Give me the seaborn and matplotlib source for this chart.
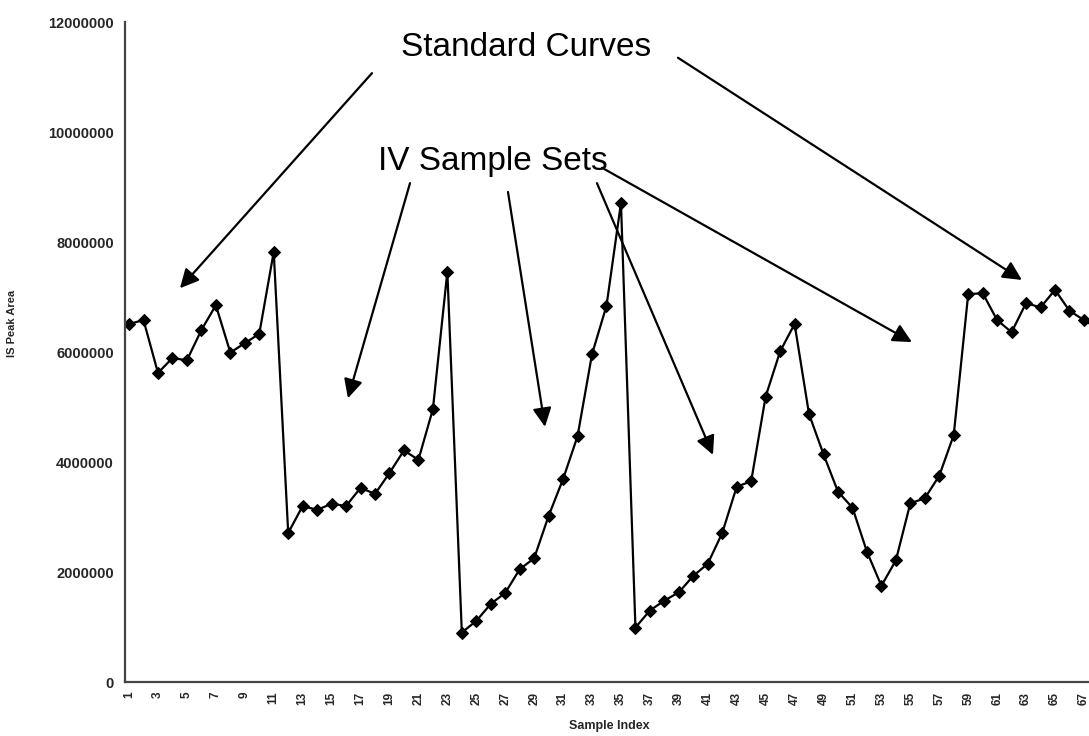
import matplotlib
matplotlib.use("Agg")
import matplotlib.pyplot as plt
import seaborn as sns
import pandas as pd

# ---- data ----
sample_index = list(range(1, 69))
is_peak_area = [
    6510000, 6580000, 5620000, 5890000, 5850000, 6400000, 6850000, 5990000, 6160000, 6330000,
    7820000, 2710000, 3200000, 3130000, 3240000, 3200000, 3530000, 3420000, 3800000, 4210000,
    4040000, 4960000, 7460000, 900000, 1110000, 1420000, 1620000, 2050000, 2250000, 3020000,
    3690000, 4470000, 5960000, 6840000, 8710000, 990000, 1300000, 1480000, 1630000, 1930000,
    2150000, 2710000, 3550000, 3650000, 5190000, 6010000, 6510000, 4870000, 4140000, 3460000,
    3170000, 2370000, 1750000, 2210000, 3250000, 3340000, 3750000, 4490000, 7050000, 7070000,
    6580000, 6360000, 6890000, 6810000, 7130000, 6750000, 6580000, 6420000,
]
y_ticks = [0, 2000000, 4000000, 6000000, 8000000, 10000000, 12000000]
y_tick_labels = ["0", "2000000", "4000000", "6000000", "8000000", "10000000", "12000000"]
x_ticks = list(range(1, 68))
x_tick_labels = [str(i) if i % 2 == 1 else "" for i in x_ticks]

df = pd.DataFrame({"Sample Index": sample_index, "IS Peak Area": is_peak_area})

sns.set_style("white")
plt.rcParams["font.family"] = ["Liberation Sans", "DejaVu Sans"]

fig = plt.figure(figsize=(10.89, 7.36), dpi=100)
ax = fig.add_axes([125 / 1089, 54 / 736, 964 / 1089, 660 / 736])

sns.lineplot(data=df, x="Sample Index", y="IS Peak Area", ax=ax, color="black",
             marker="D", markersize=6.5, markeredgecolor="black", linewidth=1.6)

ax.set_xlim(0.72, 67.35)
ax.set_ylim(0, 12000000)
ax.set_yticks(y_ticks)
ax.set_yticklabels(y_tick_labels, fontsize=10.5, fontweight="bold")
ax.set_xticks(x_ticks)
ax.set_xticklabels(x_tick_labels, fontsize=8.5, fontweight="bold", rotation=90)
ax.tick_params(axis="both", direction="out", length=4, width=1.2, color="#333333", pad=3)
ax.tick_params(axis="y", length=5)

for s in ["top", "right"]:
    ax.spines[s].set_visible(False)
for s in ["left", "bottom"]:
    ax.spines[s].set_color("#444444")
    ax.spines[s].set_linewidth(1.6)

ax.set_xlabel("Sample Index", fontsize=9, fontweight="bold")
ax.set_ylabel("IS Peak Area", fontsize=8, fontweight="bold")
ax.xaxis.set_label_coords(0.502, -0.057)
ax.yaxis.set_label_coords(-0.112, 0.544)

# ---- annotations ----
ax.text(28.44, 11380000, "Standard Curves", fontsize=24, ha="center", va="baseline", color="black")
ax.text(26.16, 9310000, "IV Sample Sets", fontsize=24, ha="center", va="baseline", color="black")

arrow_kw = dict(arrowstyle="-|>,head_length=0.6,head_width=0.3", mutation_scale=19, lw=1.6,
                color="black", shrinkA=0, shrinkB=0)
arrows = [
    ((17.79, 11070000), (4.52, 7160000)),
    ((38.94, 11350000), (62.71, 7310000)),
    ((20.42, 9070000), (16.13, 5160000)),
    ((27.19, 8910000), (29.75, 4640000)),
    ((33.34, 9070000), (41.36, 4130000)),
    ((33.69, 9350000), (55.11, 6180000)),
]
for start, end in arrows:
    ax.annotate("", xy=end, xytext=start, arrowprops=arrow_kw, annotation_clip=False)

fig.savefig("out.png", dpi=100)
